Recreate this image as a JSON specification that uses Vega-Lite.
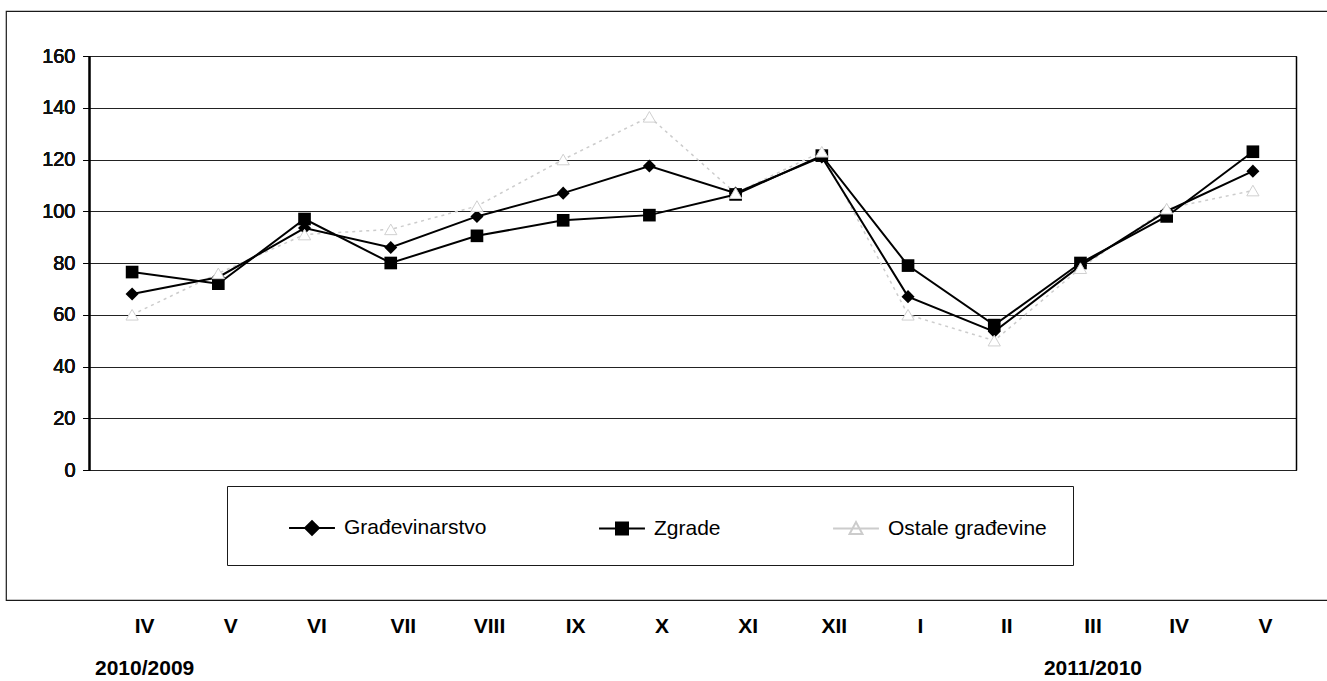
{
  "$schema": "https://vega.github.io/schema/vega-lite/v6.json",
  "width": 1330,
  "height": 589,
  "autosize": "none",
  "padding": {"left": 6, "top": 11, "right": 0, "bottom": 81},
  "background": "white",
  "config": {
    "font": "Liberation Sans",
    "view": {"stroke": "#1a1a1a", "strokeWidth": 1.2}
  },
  "data": {
    "values": [
      {"key": "IV 2010", "series": "Ostale građevine", "value": 60},
      {"key": "V 2010", "series": "Ostale građevine", "value": 76},
      {"key": "VI 2010", "series": "Ostale građevine", "value": 91},
      {"key": "VII 2010", "series": "Ostale građevine", "value": 93},
      {"key": "VIII 2010", "series": "Ostale građevine", "value": 102},
      {"key": "IX 2010", "series": "Ostale građevine", "value": 120},
      {"key": "X 2010", "series": "Ostale građevine", "value": 136.5},
      {"key": "XI 2010", "series": "Ostale građevine", "value": 107},
      {"key": "XII 2010", "series": "Ostale građevine", "value": 123},
      {"key": "I 2011", "series": "Ostale građevine", "value": 60},
      {"key": "II 2011", "series": "Ostale građevine", "value": 50},
      {"key": "III 2011", "series": "Ostale građevine", "value": 78},
      {"key": "IV 2011", "series": "Ostale građevine", "value": 101},
      {"key": "V 2011", "series": "Ostale građevine", "value": 108},
      {"key": "IV 2010", "series": "Građevinarstvo", "value": 68},
      {"key": "V 2010", "series": "Građevinarstvo", "value": 74.5},
      {"key": "VI 2010", "series": "Građevinarstvo", "value": 93.5},
      {"key": "VII 2010", "series": "Građevinarstvo", "value": 86},
      {"key": "VIII 2010", "series": "Građevinarstvo", "value": 98},
      {"key": "IX 2010", "series": "Građevinarstvo", "value": 107},
      {"key": "X 2010", "series": "Građevinarstvo", "value": 117.5},
      {"key": "XI 2010", "series": "Građevinarstvo", "value": 107},
      {"key": "XII 2010", "series": "Građevinarstvo", "value": 121},
      {"key": "I 2011", "series": "Građevinarstvo", "value": 67},
      {"key": "II 2011", "series": "Građevinarstvo", "value": 53.5},
      {"key": "III 2011", "series": "Građevinarstvo", "value": 79},
      {"key": "IV 2011", "series": "Građevinarstvo", "value": 100},
      {"key": "V 2011", "series": "Građevinarstvo", "value": 115.5},
      {"key": "IV 2010", "series": "Zgrade", "value": 76.5},
      {"key": "V 2010", "series": "Zgrade", "value": 72},
      {"key": "VI 2010", "series": "Zgrade", "value": 97},
      {"key": "VII 2010", "series": "Zgrade", "value": 80},
      {"key": "VIII 2010", "series": "Zgrade", "value": 90.5},
      {"key": "IX 2010", "series": "Zgrade", "value": 96.5},
      {"key": "X 2010", "series": "Zgrade", "value": 98.5},
      {"key": "XI 2010", "series": "Zgrade", "value": 106.5},
      {"key": "XII 2010", "series": "Zgrade", "value": 121.5},
      {"key": "I 2011", "series": "Zgrade", "value": 79},
      {"key": "II 2011", "series": "Zgrade", "value": 56},
      {"key": "III 2011", "series": "Zgrade", "value": 80},
      {"key": "IV 2011", "series": "Zgrade", "value": 98},
      {"key": "V 2011", "series": "Zgrade", "value": 123}
    ]
  },
  "encoding": {
    "x": {
      "field": "key",
      "type": "ordinal",
      "sort": null,
      "scale": {
        "type": "point",
        "domain": ["IV 2010", "V 2010", "VI 2010", "VII 2010", "VIII 2010", "IX 2010", "X 2010", "XI 2010", "XII 2010", "I 2011", "II 2011", "III 2011", "IV 2011", "V 2011"],
        "range": [83, 1290],
        "padding": 0.5
      },
      "axis": {
        "orient": "bottom",
        "title": null,
        "domain": false,
        "ticks": false,
        "grid": false,
        "labelFont": "Liberation Sans",
        "labelFontSize": 21,
        "labelFontWeight": "bold",
        "labelColor": "#000",
        "labelPadding": 15,
        "labelOffset": 12,
        "labelLineHeight": 42,
        "labelOverlap": false,
        "labelBound": false,
        "labelAngle": 0,
        "labelExpr": "datum.value == 'IV 2010' ? ['IV', '2010/2009'] : datum.value == 'III 2011' ? ['III', '2011/2010'] : split(datum.value, ' ')[0]"
      }
    },
    "y": {
      "field": "value",
      "type": "quantitative",
      "scale": {"domain": [0, 160], "range": [459, 45], "nice": false},
      "axis": {
        "orient": "left",
        "offset": -83,
        "title": null,
        "values": [0, 20, 40, 60, 80, 100, 120, 140, 160],
        "domain": true,
        "domainColor": "#000",
        "domainWidth": 1.5,
        "ticks": true,
        "tickSize": 6,
        "tickColor": "#000",
        "grid": true,
        "gridColor": "#222",
        "gridWidth": 1.2,
        "labelFont": "Liberation Sans",
        "labelFontSize": 20,
        "labelFontWeight": "normal",
        "labelColor": "#111",
        "labelPadding": 8
      }
    }
  },
  "layer": [
    {
      "transform": [{"filter": "datum.series == 'Ostale građevine'"}],
      "mark": {"type": "line", "strokeWidth": 1.5, "strokeDash": [3, 4]},
      "encoding": {
        "stroke": {
          "field": "series",
          "type": "nominal",
          "scale": {"domain": ["Građevinarstvo", "Zgrade", "Ostale građevine"], "range": ["#000000", "#000000", "#cccccc"]},
          "legend": {
            "title": null,
            "orient": "none",
            "legendX": 221,
            "legendY": 475,
            "direction": "horizontal",
            "strokeColor": "#1a1a1a",
            "fillColor": "white",
            "padding": 26,
            "symbolOffset": 43,
            "symbolSize": 900,
            "symbolStrokeWidth": 2,
            "labelFont": "Liberation Sans",
            "labelFontSize": 21,
            "labelColor": "#000",
            "labelOffset": 16,
            "columnPadding": 76,
            "labelLimit": 0
          }
        }
      }
    },
    {
      "transform": [{"filter": "datum.series != 'Ostale građevine'"}],
      "mark": {"type": "line", "strokeWidth": 2},
      "encoding": {
        "stroke": {
          "field": "series",
          "type": "nominal",
          "scale": {"domain": ["Građevinarstvo", "Zgrade", "Ostale građevine"], "range": ["#000000", "#000000", "#cccccc"]},
          "legend": {
            "title": null,
            "orient": "none",
            "legendX": 221,
            "legendY": 475,
            "direction": "horizontal",
            "strokeColor": "#1a1a1a",
            "fillColor": "white",
            "padding": 26,
            "symbolOffset": 43,
            "symbolSize": 900,
            "symbolStrokeWidth": 2,
            "labelFont": "Liberation Sans",
            "labelFontSize": 21,
            "labelColor": "#000",
            "labelOffset": 16,
            "columnPadding": 76,
            "labelLimit": 0
          }
        }
      }
    },
    {
      "transform": [{"filter": "datum.series == 'Građevinarstvo'"}],
      "mark": {"type": "point", "shape": "diamond", "filled": true, "color": "#000", "size": 170, "opacity": 1}
    },
    {
      "transform": [{"filter": "datum.series == 'Zgrade'"}],
      "mark": {"type": "point", "shape": "square", "filled": true, "color": "#000", "size": 160, "opacity": 1}
    },
    {
      "transform": [{"filter": "datum.series == 'Ostale građevine'"}],
      "mark": {"type": "point", "shape": "triangle-up", "fill": "#ffffff", "stroke": "#d0d0d0", "strokeWidth": 1, "size": 150, "opacity": 1, "fillOpacity": 1}
    },
    {
      "mark": {"type": "point", "strokeWidth": 2, "size": 0, "opacity": 1},
      "encoding": {
        "y": {
          "field": "value",
          "type": "quantitative",
          "scale": {"domain": [0, 160], "range": [459, 45], "nice": false},
          "axis": {
            "orient": "right",
            "offset": -40,
            "title": null,
            "labels": false,
            "ticks": false,
            "grid": false,
            "domain": true,
            "domainColor": "#000",
            "domainWidth": 1.5
          }
        },
        "shape": {
          "field": "series",
          "type": "nominal",
          "scale": {
            "domain": ["Građevinarstvo", "Zgrade", "Ostale građevine"],
            "range": ["M-1.53,0H1.53M-0.46,0L0,-0.46L0.46,0L0,0.46Z", "M-1.53,0H1.53M-0.4,-0.4H0.4V0.4H-0.4Z", "M-1.53,0H1.53M-0.43,0.37L0,-0.43L0.43,0.37Z"]
          },
          "legend": {
            "title": null,
            "orient": "none",
            "legendX": 221,
            "legendY": 475,
            "direction": "horizontal",
            "strokeColor": "#1a1a1a",
            "fillColor": "white",
            "padding": 26,
            "symbolOffset": 43,
            "symbolSize": 900,
            "symbolStrokeWidth": 2,
            "labelFont": "Liberation Sans",
            "labelFontSize": 21,
            "labelColor": "#000",
            "labelOffset": 16,
            "columnPadding": 76,
            "labelLimit": 0
          }
        },
        "fill": {
          "field": "series",
          "type": "nominal",
          "scale": {"domain": ["Građevinarstvo", "Zgrade", "Ostale građevine"], "range": ["#000000", "#000000", "#ffffff"]},
          "legend": {
            "title": null,
            "orient": "none",
            "legendX": 221,
            "legendY": 475,
            "direction": "horizontal",
            "strokeColor": "#1a1a1a",
            "fillColor": "white",
            "padding": 26,
            "symbolOffset": 43,
            "symbolSize": 900,
            "symbolStrokeWidth": 2,
            "labelFont": "Liberation Sans",
            "labelFontSize": 21,
            "labelColor": "#000",
            "labelOffset": 16,
            "columnPadding": 76,
            "labelLimit": 0
          }
        },
        "stroke": {
          "field": "series",
          "type": "nominal",
          "scale": {"domain": ["Građevinarstvo", "Zgrade", "Ostale građevine"], "range": ["#000000", "#000000", "#cccccc"]},
          "legend": {
            "title": null,
            "orient": "none",
            "legendX": 221,
            "legendY": 475,
            "direction": "horizontal",
            "strokeColor": "#1a1a1a",
            "fillColor": "white",
            "padding": 26,
            "symbolOffset": 43,
            "symbolSize": 900,
            "symbolStrokeWidth": 2,
            "labelFont": "Liberation Sans",
            "labelFontSize": 21,
            "labelColor": "#000",
            "labelOffset": 16,
            "columnPadding": 76,
            "labelLimit": 0
          }
        }
      }
    }
  ],
  "resolve": {"axis": {"y": "independent"}}
}
